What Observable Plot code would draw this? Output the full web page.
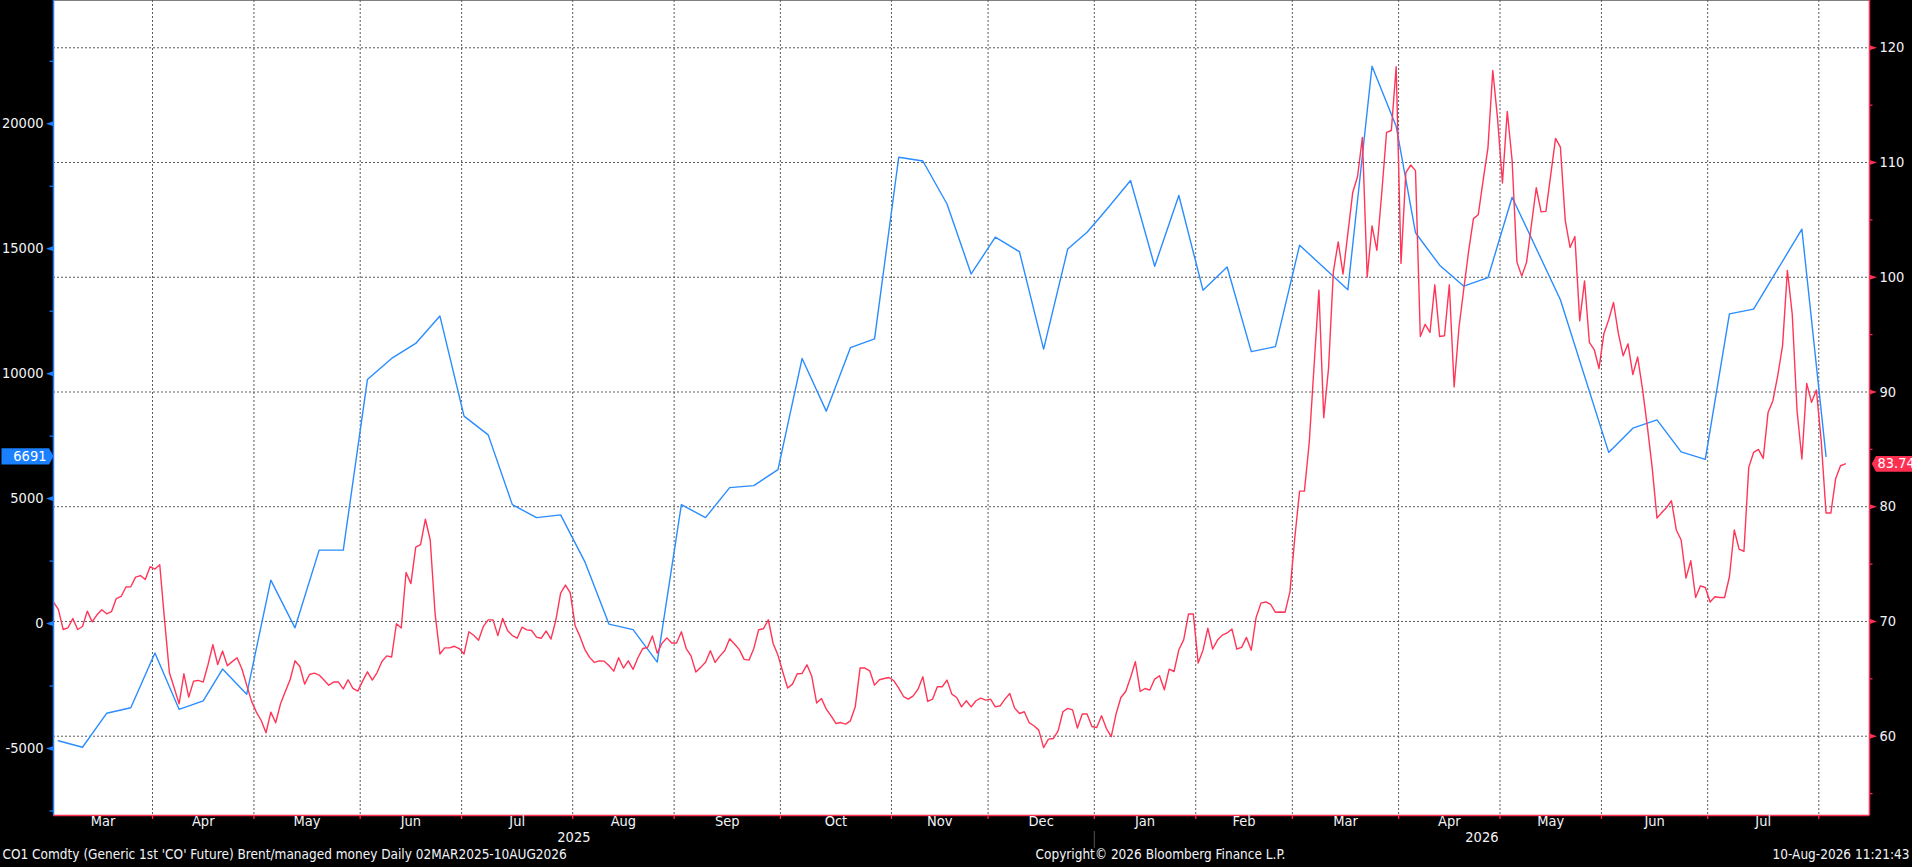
<!DOCTYPE html>
<html><head><meta charset="utf-8">
<script src="https://cdn.jsdelivr.net/npm/d3@7"></script>
<script src="https://cdn.jsdelivr.net/npm/@observablehq/plot@0.6"></script>
<style>html,body{margin:0;padding:0;background:#000;overflow:hidden}</style>
</head><body><div id="chart"></div>
<script>
// ---------- data ----------
const holidays = ["2025-04-18","2025-12-25","2026-01-01","2026-04-03"];

// CO1 Comdty (Brent, right axis) daily close
const brentSeries = [
["2025-03-03",71.69],["2025-03-04",71.05],["2025-03-05",69.30],["2025-03-06",69.45],["2025-03-07",70.26],
["2025-03-10",69.30],["2025-03-11",69.56],["2025-03-12",70.90],["2025-03-13",69.97],["2025-03-14",70.58],
["2025-03-17",71.02],["2025-03-18",70.67],["2025-03-19",70.85],["2025-03-20",72.00],["2025-03-21",72.18],
["2025-03-24",73.00],["2025-03-25",73.03],["2025-03-26",73.87],["2025-03-27",74.00],["2025-03-28",73.66],
["2025-03-31",74.77],["2025-04-01",74.57],["2025-04-02",74.94],["2025-04-03",70.10],["2025-04-04",65.53],
["2025-04-07",64.20],["2025-04-08",62.82],["2025-04-09",65.44],["2025-04-10",63.41],["2025-04-11",64.80],
["2025-04-14",64.86],["2025-04-15",64.72],["2025-04-16",66.25],["2025-04-17",67.97],
["2025-04-21",66.25],["2025-04-22",67.42],["2025-04-23",66.14],["2025-04-24",66.50],["2025-04-25",66.84],
["2025-04-28",65.88],["2025-04-29",64.45],["2025-04-30",63.06],["2025-05-01",62.10],["2025-05-02",61.37],
["2025-05-05",60.30],["2025-05-06",62.10],["2025-05-07",61.17],["2025-05-08",62.82],["2025-05-09",63.90],
["2025-05-12",64.94],["2025-05-13",66.57],["2025-05-14",66.08],["2025-05-15",64.54],["2025-05-16",65.38],
["2025-05-19",65.50],["2025-05-20",65.33],["2025-05-21",64.90],["2025-05-22",64.45],["2025-05-23",64.72],
["2025-05-26",64.72],["2025-05-27",64.13],["2025-05-28",64.92],["2025-05-29",64.16],["2025-05-30",63.93],
["2025-06-02",64.80],["2025-06-03",65.61],["2025-06-04",64.89],["2025-06-05",65.55],["2025-06-06",66.51],
["2025-06-09",67.00],["2025-06-10",66.90],["2025-06-11",69.80],["2025-06-12",69.43],["2025-06-13",74.27],
["2025-06-16",73.30],["2025-06-17",76.48],["2025-06-18",76.70],["2025-06-19",78.91],["2025-06-20",77.10],
["2025-06-23",70.71],["2025-06-24",67.17],["2025-06-25",67.70],["2025-06-26",67.70],["2025-06-27",67.84],
["2025-06-30",67.64],["2025-07-01",67.17],["2025-07-02",69.10],["2025-07-03",68.80],["2025-07-04",68.37],
["2025-07-07",69.57],["2025-07-08",70.14],["2025-07-09",70.14],["2025-07-10",68.77],["2025-07-11",70.27],
["2025-07-14",69.21],["2025-07-15",68.77],["2025-07-16",68.54],["2025-07-17",69.50],["2025-07-18",69.27],
["2025-07-21",69.21],["2025-07-22",68.64],["2025-07-23",68.54],["2025-07-24",69.17],["2025-07-25",68.47],
["2025-07-28",70.10],["2025-07-29",72.47],["2025-07-30",73.17],["2025-07-31",72.50],["2025-08-01",69.63],
["2025-08-04",68.70],["2025-08-05",67.57],["2025-08-06",66.87],["2025-08-07",66.43],["2025-08-08",66.57],
["2025-08-11",66.54],["2025-08-12",66.16],["2025-08-13",65.67],["2025-08-14",66.84],["2025-08-15",65.94],
["2025-08-18",66.57],["2025-08-19",65.83],["2025-08-20",66.84],["2025-08-21",67.64],["2025-08-22",67.73],
["2025-08-25",68.74],["2025-08-26",67.24],["2025-08-27",68.10],["2025-08-28",68.57],["2025-08-29",68.13],
["2025-09-01",68.13],["2025-09-02",69.10],["2025-09-03",67.64],["2025-09-04",67.00],["2025-09-05",65.60],
["2025-09-08",66.00],["2025-09-09",66.45],["2025-09-10",67.45],["2025-09-11",66.43],["2025-09-12",67.00],
["2025-09-15",67.47],["2025-09-16",68.50],["2025-09-17",68.04],["2025-09-18",67.55],["2025-09-19",66.70],
["2025-09-22",66.63],["2025-09-23",67.65],["2025-09-24",69.28],["2025-09-25",69.37],["2025-09-26",70.15],
["2025-09-29",68.08],["2025-09-30",67.05],["2025-10-01",65.60],["2025-10-02",64.20],["2025-10-03",64.54],
["2025-10-06",65.45],["2025-10-07",65.47],["2025-10-08",66.22],["2025-10-09",65.22],["2025-10-10",62.90],
["2025-10-13",63.29],["2025-10-14",62.36],["2025-10-15",61.78],["2025-10-16",61.11],["2025-10-17",61.19],
["2025-10-20",61.05],["2025-10-21",61.34],["2025-10-22",62.56],["2025-10-23",65.94],["2025-10-24",65.94],
["2025-10-27",65.70],["2025-10-28",64.45],["2025-10-29",64.92],["2025-10-30",65.03],["2025-10-31",65.12],
["2025-11-03",64.83],["2025-11-04",64.19],["2025-11-05",63.46],["2025-11-06",63.23],["2025-11-07",63.52],
["2025-11-10",64.10],["2025-11-11",65.18],["2025-11-12",63.03],["2025-11-13",63.23],["2025-11-14",64.31],
["2025-11-17",64.31],["2025-11-18",64.89],["2025-11-19",63.67],["2025-11-20",63.37],["2025-11-21",62.56],
["2025-11-24",63.09],["2025-11-25",62.56],["2025-11-26",63.09],["2025-11-27",63.32],["2025-11-28",63.15],
["2025-12-01",63.23],["2025-12-02",62.56],["2025-12-03",62.65],["2025-12-04",63.23],["2025-12-05",63.72],
["2025-12-08",62.45],["2025-12-09",61.98],["2025-12-10",62.13],["2025-12-11",61.19],["2025-12-12",60.91],
["2025-12-15",60.53],["2025-12-16",59.01],["2025-12-17",59.75],["2025-12-18",59.80],["2025-12-19",60.47],
["2025-12-22",62.13],["2025-12-23",62.42],["2025-12-24",62.30],["2025-12-26",60.71],
["2025-12-29",61.93],["2025-12-30",61.93],["2025-12-31",60.85],["2026-01-02",60.76],
["2026-01-05",61.78],["2026-01-06",60.67],["2026-01-07",59.97],["2026-01-08",61.93],["2026-01-09",63.37],
["2026-01-12",63.90],["2026-01-13",65.12],["2026-01-14",66.49],["2026-01-15",63.90],["2026-01-16",64.16],
["2026-01-19",64.02],["2026-01-20",64.98],["2026-01-21",65.27],["2026-01-22",64.05],["2026-01-23",65.85],
["2026-01-26",65.64],["2026-01-27",67.53],["2026-01-28",68.40],["2026-01-29",70.65],["2026-01-30",70.65],
["2026-02-02",66.37],["2026-02-03",67.50],["2026-02-04",69.42],["2026-02-05",67.60],["2026-02-06",68.38],
["2026-02-09",68.81],["2026-02-10",69.00],["2026-02-11",69.34],["2026-02-12",67.60],["2026-02-13",67.74],
["2026-02-16",68.61],["2026-02-17",67.50],["2026-02-18",70.35],["2026-02-19",71.60],["2026-02-20",71.70],
["2026-02-23",71.50],["2026-02-24",70.80],["2026-02-25",70.82],["2026-02-26",70.81],["2026-02-27",72.58],
["2026-03-02",77.25],["2026-03-03",81.36],["2026-03-04",81.36],["2026-03-05",85.60],["2026-03-06",92.27],
["2026-03-09",98.88],["2026-03-10",87.76],["2026-03-11",92.10],["2026-03-12",100.50],["2026-03-13",103.08],
["2026-03-16",100.28],["2026-03-17",103.85],["2026-03-18",107.38],["2026-03-19",108.78],["2026-03-20",112.19],
["2026-03-23",100.01],["2026-03-24",104.48],["2026-03-25",102.35],["2026-03-26",107.28],["2026-03-27",112.62],
["2026-03-30",112.79],["2026-03-31",118.36],["2026-04-01",101.21],["2026-04-02",109.12],
["2026-04-06",109.78],["2026-04-07",109.29],["2026-04-08",94.84],["2026-04-09",95.90],["2026-04-10",95.20],
["2026-04-13",99.34],["2026-04-14",94.84],["2026-04-15",94.90],["2026-04-16",99.34],["2026-04-17",90.44],
["2026-04-20",95.60],["2026-04-21",99.00],["2026-04-22",102.27],["2026-04-23",105.11],["2026-04-24",105.45],
["2026-04-27",108.45],["2026-04-28",111.28],["2026-04-29",118.02],["2026-04-30",113.78],["2026-05-01",108.21],
["2026-05-04",114.46],["2026-05-05",110.20],["2026-05-06",101.32],["2026-05-07",100.10],["2026-05-08",101.32],
["2026-05-12",107.80],["2026-05-13",105.70],["2026-05-14",105.74],
["2026-05-18",112.10],["2026-05-19",111.34],["2026-05-20",104.96],["2026-05-21",102.60],["2026-05-22",103.55],
["2026-05-25",96.20],["2026-05-26",99.68],["2026-05-27",94.33],["2026-05-28",93.70],["2026-05-29",92.05],
["2026-06-01",95.08],["2026-06-02",96.30],["2026-06-03",97.80],["2026-06-04",95.10],["2026-06-05",93.15],
["2026-06-08",94.20],["2026-06-09",91.52],["2026-06-10",93.05],["2026-06-11",90.25],["2026-06-12",87.00],
["2026-06-15",83.43],["2026-06-16",79.01],["2026-06-17",79.50],["2026-06-18",79.94],["2026-06-19",80.52],
["2026-06-22",77.97],["2026-06-23",77.10],["2026-06-24",73.78],["2026-06-25",75.29],["2026-06-26",72.09],
["2026-06-29",73.11],["2026-06-30",72.96],["2026-07-01",71.70],["2026-07-02",72.15],["2026-07-03",72.09],
["2026-07-06",72.09],["2026-07-07",73.90],["2026-07-08",77.97],["2026-07-09",76.31],["2026-07-10",76.10],
["2026-07-13",83.43],["2026-07-14",84.73],["2026-07-15",85.00],["2026-07-16",84.21],["2026-07-17",88.22],
["2026-07-20",89.24],["2026-07-21",91.42],["2026-07-22",94.04],["2026-07-23",100.60],["2026-07-24",96.80],
["2026-07-27",88.37],["2026-07-28",84.16],["2026-07-29",90.75],["2026-07-30",89.10],["2026-07-31",90.17],
["2026-08-03",85.75],["2026-08-04",79.45],["2026-08-05",79.45],["2026-08-06",82.47],["2026-08-07",83.57],
["2026-08-10",83.74]
];

// managed money net position (left axis), weekly
const mmSeries = [
["2025-03-04",-4690],["2025-03-11",-4950],["2025-03-18",-3590],["2025-03-25",-3370],["2025-04-01",-1180],
["2025-04-08",-3430],["2025-04-15",-3090],["2025-04-22",-1820],["2025-04-29",-2830],["2025-05-06",1740],
["2025-05-13",-170],["2025-05-20",2940],["2025-05-27",2940],["2025-06-03",9770],["2025-06-10",10610],
["2025-06-17",11210],["2025-06-24",12310],["2025-07-01",8300],["2025-07-08",7550],["2025-07-15",4760],
["2025-07-22",4240],["2025-07-29",4350],["2025-08-05",2480],["2025-08-12",-20],["2025-08-19",-240],
["2025-08-26",-1540],["2025-09-02",4760],["2025-09-09",4240],["2025-09-16",5440],["2025-09-23",5520],
["2025-09-30",6160],["2025-10-07",10610],["2025-10-14",8500],["2025-10-21",11040],["2025-10-28",11390],
["2025-11-04",18660],["2025-11-11",18510],["2025-11-18",16790],["2025-11-25",13990],["2025-12-02",15460],
["2025-12-09",14880],["2025-12-16",10980],["2025-12-23",14990],["2025-12-30",15660],["2026-01-06",16560],
["2026-01-13",17730],["2026-01-20",14300],["2026-01-27",17130],["2026-02-03",13340],["2026-02-10",14270],
["2026-02-17",10880],["2026-02-24",11080],["2026-03-03",15140],["2026-03-17",13360],["2026-03-24",22300],
["2026-03-31",19900],["2026-04-07",15640],["2026-04-14",14340],["2026-04-21",13500],["2026-04-28",13840],
["2026-05-05",17060],["2026-05-19",12960],["2026-06-02",6850],["2026-06-09",7820],["2026-06-16",8150],
["2026-06-23",6870],["2026-06-30",6570],["2026-07-07",12390],["2026-07-14",12580],["2026-07-21",14180],
["2026-07-28",15780],["2026-08-04",6691]
];

const leftTicks = [-5000, 0, 5000, 10000, 15000, 20000];
const leftMinor = [-7500, -2500, 2500, 7500, 12500, 17500, 22500];
const rightTicks = [60, 70, 80, 90, 100, 110, 120];
const rightMinor = [55, 65, 75, 85, 95, 105, 115];
const monthStarts = ["2025-04-01","2025-05-01","2025-06-01","2025-07-01","2025-08-01","2025-09-01","2025-10-01",
  "2025-11-01","2025-12-01","2026-01-01","2026-02-01","2026-03-01","2026-04-01","2026-05-01","2026-06-01",
  "2026-07-01","2026-08-01"];
const monthLabels = ["Mar","Apr","May","Jun","Jul","Aug","Sep","Oct","Nov","Dec","Jan","Feb","Mar","Apr","May","Jun","Jul"];
const yearLabels = ["2025","2026"];
const footerLeft = "CO1 Comdty (Generic 1st 'CO' Future) Brent/managed money Daily 02MAR2025-10AUG2026";
const footerMid = "Copyright\u00A9 2026 Bloomberg Finance L.P.";
const footerRight = "10-Aug-2026 11:21:43";

// ---------- trading-day index (weekdays, exchange holidays removed) ----------
const fmtDay = d3.utcFormat("%Y-%m-%d");
const hol = new Set(holidays);
const idxOf = new Map();
{
  let k = 0; const pending = [];
  for (let t = Date.UTC(2025, 2, 3); t <= Date.UTC(2026, 7, 31); t += 864e5) {
    const d = new Date(t), s = fmtDay(d), wd = d.getUTCDay();
    if (wd === 0 || wd === 6 || hol.has(s)) { pending.push(s); continue; }
    for (const p of pending) idxOf.set(p, k);
    pending.length = 0;
    idxOf.set(s, k); k++;
  }
}

// ---------- scales ----------
const W = 1912, H = 867, mL = 53, mR = 43, mT = 0, mB = 52;
const xDom = [0, 376];
const yDom = [53.09, 124.12];          // Brent (right axis)
const bDom = [-7680, 24932];           // managed money (left axis)
const toY = b => yDom[0] + (b - bDom[0]) * (yDom[1] - yDom[0]) / (bDom[1] - bDom[0]);
const pxX = (W - mL - mR) / (xDom[1] - xDom[0]);
const pxY = (H - mT - mB) / (yDom[1] - yDom[0]);

const RED = "#ff2f52", RED_LINE = "#ff3658", BLUE = "#1a80ff", BLUE_LINE = "#2a8dff";
const GRID = "#5a5a5a", TXT = "#f2f4f8";

const brent = brentSeries.map(([d, v]) => ({x: idxOf.get(d), y: v}));
const mm = mmSeries.map(([d, v]) => ({x: idxOf.get(d), y: toY(v), v}));
const bounds = monthStarts.map(s => idxOf.get(s) - 0.5);
const edges = [xDom[0], ...bounds];
const monthMid = monthLabels.map((m, i) => ({x: (edges[i] + edges[i + 1]) / 2, label: m}));
const janB = idxOf.get("2026-01-01") - 0.5;
const yearMid = [{x: (xDom[0] + janB) / 2, label: yearLabels[0]}, {x: (janB + xDom[1]) / 2, label: yearLabels[1]}];
const lastB = brent[brent.length - 1], lastM = mm[mm.length - 1];

const shape = f => ({draw(ctx) { f(ctx); }});
const wedgeR = shape(c => { c.moveTo(0, -2.6); c.lineTo(7.5, 0); c.lineTo(0, 2.6); c.closePath(); });
const wedgeL = shape(c => { c.moveTo(0, -2.6); c.lineTo(-7.5, 0); c.lineTo(0, 2.6); c.closePath(); });
const tagL = shape(c => { c.moveTo(0, 0); c.lineTo(-4.5, -8.2); c.lineTo(-52, -8.2); c.lineTo(-52, 8.2); c.lineTo(-4.5, 8.2); c.closePath(); });
const tagR = shape(c => { c.moveTo(2.3, 0); c.lineTo(6.5, -7.9); c.lineTo(45, -7.9); c.lineTo(45, 7.9); c.lineTo(6.5, 7.9); c.closePath(); });

const FONT = "'Liberation Sans Narrow','DejaVu Sans Condensed','Arial Narrow',sans-serif";

const chart = Plot.plot({
  width: W, height: H,
  marginLeft: mL, marginRight: mR, marginTop: mT, marginBottom: mB,
  x: {type: "linear", domain: xDom, axis: null},
  y: {domain: yDom, axis: null},
  style: {background: "#000", fontFamily: FONT, fontSize: "14.5px", color: TXT, overflow: "visible"},
  marks: [
    Plot.frame({fill: "#fff", stroke: "none"}),
    Plot.ruleY(rightTicks, {stroke: GRID, strokeDasharray: "2,2", strokeWidth: 1}),
    Plot.ruleX(bounds, {stroke: GRID, strokeDasharray: "2,2", strokeWidth: 1}),
    Plot.line(mm, {x: "x", y: "y", stroke: BLUE_LINE, strokeWidth: 1.4}),
    Plot.line(brent, {x: "x", y: "y", stroke: RED_LINE, strokeWidth: 1.4}),
    // axis lines
    Plot.ruleX([xDom[0]], {stroke: BLUE, strokeWidth: 1.5}),
    Plot.ruleX([xDom[1]], {stroke: RED, strokeWidth: 1.5}),
    Plot.ruleY([yDom[0]], {stroke: RED, strokeWidth: 1.5}),
    // x ticks under axis
    Plot.ruleX(bounds, {y1: yDom[0], y2: yDom[0] - 4 / pxY, stroke: RED, strokeWidth: 1.2}),
    Plot.ruleX([janB], {y1: yDom[0] - 16 / pxY, y2: yDom[0] - 33 / pxY, stroke: "#555", strokeWidth: 1}),
    // right axis
    Plot.ruleY(rightMinor, {x1: xDom[1], x2: xDom[1] + 3.5 / pxX, stroke: RED, strokeWidth: 1.2}),
    Plot.dot(rightTicks, {x: xDom[1], y: d => d, symbol: wedgeR, fill: RED, stroke: "none"}),
    Plot.text(rightTicks, {x: xDom[1], y: d => d, text: d => String(d), dx: 10, textAnchor: "start", fill: TXT}),
    // left axis
    Plot.ruleY(leftMinor, {y: d => toY(d), x1: xDom[0] - 3.5 / pxX, x2: xDom[0], stroke: BLUE, strokeWidth: 1.2}),
    Plot.dot(leftTicks, {x: xDom[0], y: d => toY(d), symbol: wedgeL, fill: BLUE, stroke: "none"}),
    Plot.text(leftTicks, {x: xDom[0], y: d => toY(d), text: d => String(d), dx: -10, textAnchor: "end", fill: TXT}),
    // month / year labels
    Plot.text(monthMid, {x: "x", text: "label", frameAnchor: "bottom", dy: 10, fill: TXT}),
    Plot.text(yearMid, {x: "x", text: "label", frameAnchor: "bottom", dy: 26, fill: TXT}),
    // last value tags
    Plot.dot([lastM], {x: xDom[0], y: "y", symbol: tagL, fill: BLUE, stroke: "none"}),
    Plot.text([lastM], {x: xDom[0], y: "y", text: d => String(d.v), dx: -7, textAnchor: "end", fill: "#fff", ariaLabel: "tag-left"}),
    Plot.dot([lastB], {x: xDom[1], y: "y", symbol: tagR, fill: RED, stroke: "none"}),
    Plot.text([lastB], {x: xDom[1], y: "y", text: d => d.y.toFixed(2), dx: 8, textAnchor: "start", fill: "#fff", ariaLabel: "tag-right"}),
    // footer
    Plot.text([footerLeft], {text: d => d, frameAnchor: "bottom-left", dx: -51, dy: 43, textAnchor: "start", fill: TXT, fontSize: 13.5, ariaLabel: "footer-left"}),
    Plot.text([footerMid], {text: d => d, frameAnchor: "bottom", dx: 199, dy: 43, textAnchor: "middle", fill: TXT, fontSize: 13.5, ariaLabel: "footer-mid"}),
    Plot.text([footerRight], {text: d => d, frameAnchor: "bottom-right", dx: 40, dy: 43, textAnchor: "end", fill: TXT, fontSize: 13.5, ariaLabel: "footer-right"})
  ]
});
document.getElementById("chart").appendChild(chart);
const fit = (label, len) => {
  const t = chart.querySelector(`g[aria-label="${label}"] text`);
  if (t) { t.setAttribute("textLength", len); t.setAttribute("lengthAdjust", "spacingAndGlyphs"); }
};
fit("footer-left", 541); fit("footer-mid", 240); fit("footer-right", 131);
fit("tag-right", 30); fit("tag-left", 28);
</script>
</body></html>
